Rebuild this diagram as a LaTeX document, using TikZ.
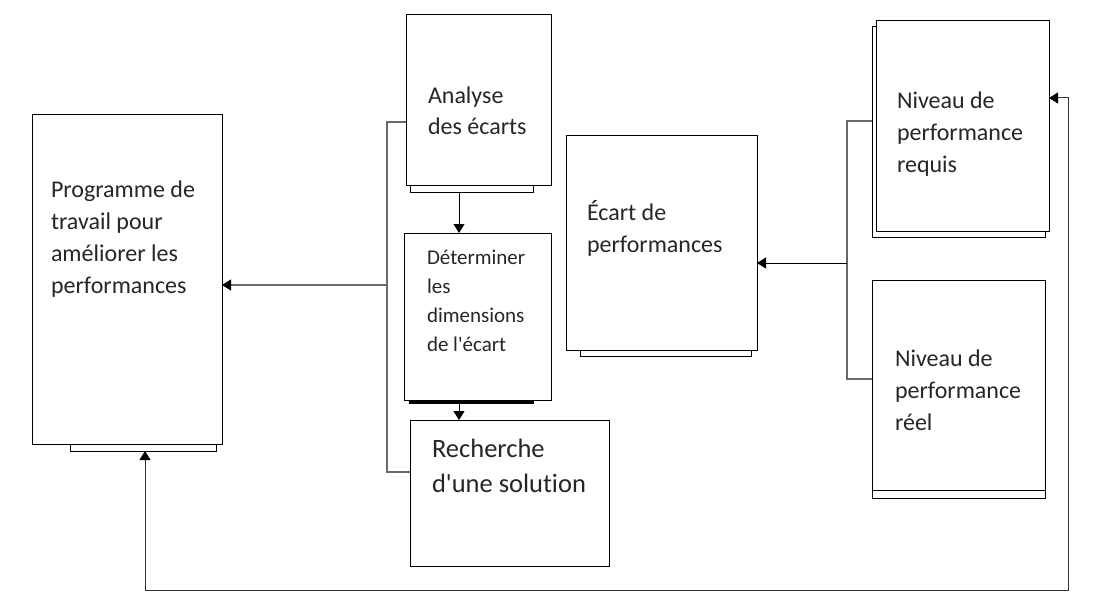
\documentclass[tikz,border=0pt]{standalone}
\usepackage{fontspec}
\setmainfont{Carlito}[Ligatures={NoCommon}]
\usetikzlibrary{arrows.meta}
\definecolor{lgray}{RGB}{105,105,105}
\newcommand{\apo}{\XeTeXglyph\XeTeXcharglyph"0027\relax}
\begin{document}
\begin{tikzpicture}[x=1pt,y=-1pt,
  box/.style={draw=black,fill=white,line width=1pt,inner sep=0pt,outer sep=0pt,anchor=north west},
  txt/.style={inner sep=0pt,outer sep=0pt,anchor=base west,align=left,text=black!85},
  conn/.style={draw=black,line width=1pt},
  gconn/.style={draw=lgray,line width=1.1pt},
  tip/.style={-{Triangle[length=9pt,width=11pt,color=black]}}]
\useasboundingbox (0,0) rectangle (1115,591);
% Programme
\node[box,minimum width=146pt,minimum height=7pt] (progS) at (70,444) {};
\node[box,minimum width=190pt,minimum height=329pt] (prog) at (32,115) {};
\node[txt,font=\fontsize{24}{32}\selectfont] (progT) at (51,293) {Programme de\\travail pour\\améliorer les\\performances};
% Analyse
\node[box,minimum width=123pt,minimum height=7pt] (anaS) at (410,185) {};
\node[box,minimum width=145pt,minimum height=170pt] (ana) at (406,15) {};
\node[txt,font=\fontsize{24}{31}\selectfont] (anaT) at (428,134) {Analyse\\des écarts};
% Determiner
\node[box,minimum width=124pt,minimum height=3.5pt,fill=black] (detS) at (409,400) {};
\node[box,minimum width=147pt,minimum height=167pt] (det) at (404,233) {};
\node[txt,font=\fontsize{21}{29}\selectfont] (detT) at (427,351) {Déterminer\\les\\dimensions\\de l\apo écart};
% Recherche
\node[box,minimum width=199pt,minimum height=146pt] (rech) at (410,420) {};
\node[txt,font=\fontsize{26.5}{35}\selectfont] (rechT) at (432,492) {Recherche\\d\apo une solution};
% Ecart
\node[box,minimum width=171pt,minimum height=8pt] (ecS) at (580,348) {};
\node[box,minimum width=191pt,minimum height=215pt] (ec) at (566,135) {};
\node[txt,font=\fontsize{24}{32}\selectfont] (ecT) at (587,252) {Écart de\\performances};
% Niveau requis
\node[box,minimum width=173pt,minimum height=210pt] (reqS) at (872,27) {};
\node[box,minimum width=173pt,minimum height=210pt] (req) at (876,21) {};
\node[txt,font=\fontsize{24}{32}\selectfont] (reqT) at (897,172) {Niveau de\\performance\\requis};
% Niveau reel
\node[box,minimum width=173pt,minimum height=10pt] (reelS) at (872,488) {};
\node[box,minimum width=173pt,minimum height=210pt] (reel) at (872,280) {};
\node[txt,font=\fontsize{24}{32}\selectfont] (reelT) at (895,430) {Niveau de\\performance\\réel};
% left bracket
\coordinate (lt) at (387,122);
\coordinate (lm) at (387,285);
\coordinate (lb) at (387,472);
\draw[gconn] (ana.west |- lt) -- (lt) -- (lb) -- (rech.west |- lb);
\draw[gconn,tip] (lm) -- (prog.east |- lm);
% vertical arrows
\draw[conn,tip] (anaS.south -| 459,0) -- (det.north -| 459,0);
\draw[conn,tip] (detS.south -| 459,0) -- (rech.north -| 459,0);
% right bracket
\coordinate (rt) at (847,121);
\coordinate (rm) at (847,263);
\coordinate (rb) at (847,379);
\draw[gconn] (reqS.west |- rt) -- (rt) -- (rb) -- (reel.west |- rb);
\draw[conn,tip] (rm) -- (ec.east |- rm);
% feedback loop
\coordinate (fb1) at (1068,98);
\coordinate (fb2) at (1068,590);
\coordinate (fb3) at (145,590);
\draw[conn,draw=black!80,tip] (fb3) -- (fb3 |- progS.south);
\draw[conn,draw=black!80,tip] (fb3) -- (fb2) -- (fb1) -- (req.east |- fb1);
\end{tikzpicture}
\end{document}
